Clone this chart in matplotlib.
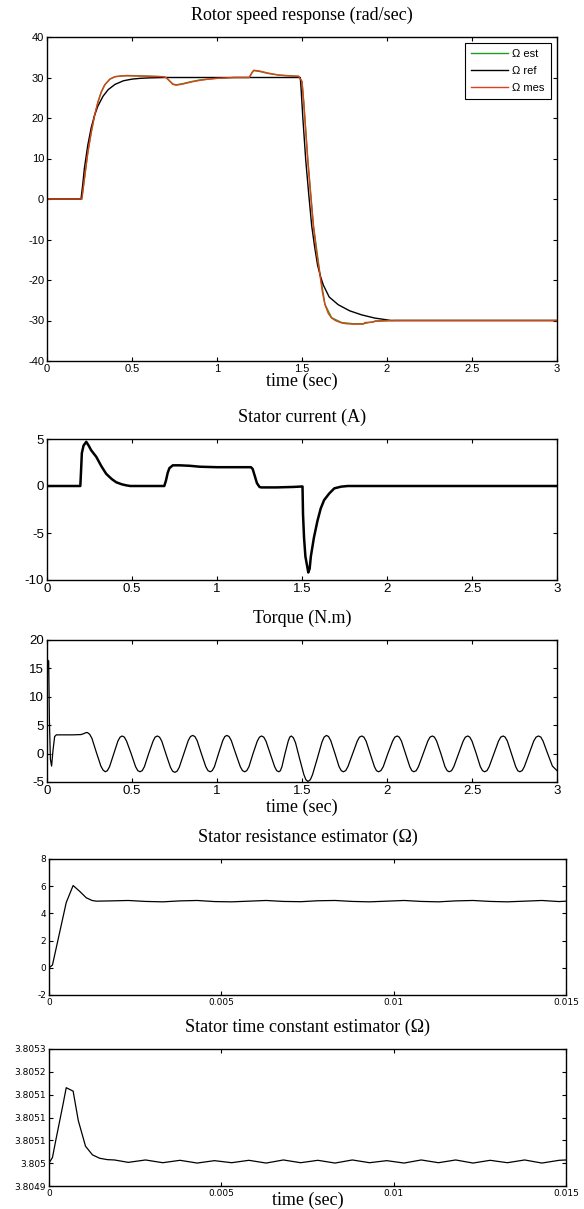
import matplotlib
matplotlib.use("Agg")
import matplotlib.pyplot as plt

plt.rcParams['font.family'] = ['Liberation Sans', 'DejaVu Sans']
plt.rcParams['axes.unicode_minus'] = False
SERIF = ['Liberation Serif', 'DejaVu Serif']

# ---- rotor speed (rad/sec) ----
t_ref = [0, 0.2, 0.21, 0.22, 0.24, 0.26, 0.28, 0.30, 0.33, 0.36, 0.40, 0.45, 0.50, 0.55,
         0.60, 0.70, 1.49, 1.495, 1.505, 1.522, 1.54, 1.557, 1.575, 1.592, 1.61, 1.626,
         1.66, 1.713, 1.78, 1.85, 1.928, 2.025, 3.0]
w_ref = [0, 0, 3.5, 7.6, 13.3, 17.6, 20.7, 23.0, 25.4, 27.0, 28.3, 29.2, 29.6, 29.8,
         29.9, 30, 30, 27, 20, 9.6, 1.0, -6.6, -12, -16.4, -19.3, -21.3,
         -24.2, -26.1, -27.6, -28.6, -29.4, -30, -30]

t_mes = [0, 0.2, 0.205, 0.22, 0.24, 0.26, 0.28, 0.30, 0.32, 0.34, 0.37, 0.40, 0.44, 0.50,
         0.60, 0.68, 0.70, 0.72, 0.74, 0.76, 0.80, 0.85, 0.90, 0.95, 1.0, 1.1, 1.19,
         1.205, 1.216, 1.25, 1.30, 1.363, 1.42, 1.48, 1.50, 1.51, 1.534, 1.55, 1.567,
         1.585, 1.606, 1.62, 1.635, 1.655, 1.674, 1.70, 1.733, 1.76, 1.80, 1.86, 1.87,
         1.92, 1.93, 2.03, 3.0]
w_mes = [0, 0, 0, 5, 11.5, 16.5, 20.7, 24, 26.5, 28.2, 29.6, 30.2, 30.4, 30.4,
         30.3, 30.2, 30.0, 29.2, 28.3, 28.1, 28.4, 28.9, 29.3, 29.6, 29.8, 30.0, 30.0,
         31.2, 31.8, 31.6, 31.1, 30.6, 30.4, 30.3, 29, 24, 9.6, 1.5, -6.6,
         -13, -18.8, -23, -26.1, -28.3, -29.4, -30.1, -30.6, -30.8, -30.9, -30.9, -30.5,
         -30.4, -30.1, -30, -30]

t_est = [0, 0.2, 0.205, 0.22, 0.24, 0.26, 0.28, 0.30, 0.32, 0.34, 0.37, 0.40, 0.47, 0.55,
         0.68, 0.70, 0.72, 0.74, 0.76, 0.80, 0.85, 0.90, 1.0, 1.1, 1.19, 1.205, 1.216,
         1.25, 1.30, 1.363, 1.48, 1.50, 1.51, 1.534, 1.567, 1.606, 1.635, 1.674, 1.733,
         1.80, 1.86, 1.93, 2.05, 3.0]
w_est = [0, 0, 0, 5, 11.4, 16.4, 20.6, 24, 26.5, 28.2, 29.6, 30.2, 30.5, 30.4,
         30.2, 30.0, 29.2, 28.4, 28.2, 28.5, 29.0, 29.4, 29.8, 30.0, 30.0, 31.1, 31.7,
         31.5, 31.0, 30.6, 30.3, 29, 24, 9.8, -6.4, -18.6, -26.0, -29.3, -30.5,
         -30.8, -30.8, -30.2, -30, -30]

# ---- stator current (A) ----
t_cur = [0, 0.196, 0.200, 0.205, 0.215, 0.231, 0.245, 0.26, 0.29, 0.32, 0.348, 0.38, 0.407,
         0.44, 0.466, 0.49, 0.69, 0.70, 0.71, 0.72, 0.74, 0.78, 0.84, 0.90, 1.0, 1.1, 1.2,
         1.21, 1.22, 1.235, 1.25, 1.26, 1.35, 1.45, 1.503, 1.506, 1.512, 1.52, 1.537, 1.545,
         1.552, 1.57, 1.591, 1.61, 1.63, 1.66, 1.69, 1.73, 1.77, 1.80, 3.0]
i_cur = [0, 0, 1.5, 3.5, 4.3, 4.7, 4.3, 3.8, 3.1, 2.1, 1.3, 0.75, 0.4,
         0.18, 0.07, 0, 0, 0.6, 1.4, 1.9, 2.2, 2.2, 2.15, 2.05, 2.0, 2.0, 2.0,
         1.8, 1.2, 0.3, -0.1, -0.15, -0.15, -0.1, -0.05, -3, -5.5, -7.5, -9.2, -8.8,
         -7.5, -5.5, -3.7, -2.4, -1.5, -0.8, -0.25, -0.07, 0, 0, 0]

# ---- torque (N.m) ----
t_trq = [0, 0.003, 0.010, 0.014, 0.020, 0.027, 0.035, 0.045, 0.055, 0.10, 0.15, 0.20, 0.215,
         0.23, 0.238,
         0.251, 0.264, 0.290, 0.317, 0.330, 0.343,
         0.355, 0.368, 0.393, 0.417, 0.430, 0.442,
         0.455, 0.468, 0.495, 0.521, 0.534, 0.547,
         0.560, 0.573, 0.598, 0.624, 0.636, 0.649,
         0.662, 0.675, 0.700, 0.726, 0.739, 0.752,
         0.765, 0.778, 0.805, 0.831, 0.844, 0.857,
         0.870, 0.883, 0.908, 0.934, 0.947, 0.960,
         0.972, 0.985, 1.009, 1.034, 1.046, 1.058,
         1.071, 1.084, 1.110, 1.137, 1.150, 1.163,
         1.175, 1.188, 1.212, 1.237, 1.250, 1.262,
         1.275, 1.288, 1.313, 1.339, 1.351, 1.364,
         1.373, 1.382, 1.400, 1.419, 1.428, 1.437,
         1.449, 1.462, 1.486, 1.511, 1.523, 1.535,
         1.549, 1.562, 1.590, 1.617, 1.630, 1.644,
         1.656, 1.669, 1.694, 1.718, 1.731, 1.743,
         1.757, 1.770, 1.798, 1.825, 1.838, 1.852,
         1.864, 1.877, 1.901, 1.926, 1.938, 1.950,
         1.964, 1.978, 2.005, 2.033, 2.046, 2.060,
         2.072, 2.085, 2.109, 2.134, 2.146, 2.158,
         2.172, 2.185, 2.213, 2.240, 2.253, 2.267,
         2.279, 2.292, 2.317, 2.341, 2.354, 2.366,
         2.380, 2.393, 2.421, 2.448, 2.461, 2.475,
         2.487, 2.500, 2.525, 2.549, 2.562, 2.574,
         2.588, 2.601, 2.629, 2.656, 2.669, 2.683,
         2.695, 2.708, 2.732, 2.757, 2.769, 2.781,
         2.795, 2.808, 2.836, 2.863, 2.877, 2.891,
         2.905, 2.918, 2.945, 2.973, 3.0]
q_trq = [0, 16.5, 16.3, 6, -1.0, -2.2, 0.5, 3.0, 3.3, 3.3, 3.3, 3.35, 3.5,
         3.7, 3.7,
         3.4, 2.7, 0.25, -2.2, -2.9, -3.2,
         -3.0, -2.3, 0, 2.2, 2.9, 3.1,
         2.9, 2.2, 0, -2.3, -3.0, -3.2,
         -3.0, -2.3, 0, 2.2, 2.9, 3.1,
         2.9, 2.2, -0.1, -2.4, -3.1, -3.3,
         -3.1, -2.4, 0, 2.3, 3.0, 3.2,
         3.0, 2.3, 0, -2.3, -3.0, -3.2,
         -3.0, -2.3, 0, 2.3, 3.0, 3.2,
         3.0, 2.3, 0, -2.3, -3.0, -3.2,
         -3.0, -2.3, 0, 2.2, 2.9, 3.1,
         2.9, 2.2, 0, -2.3, -3.0, -3.2,
         -3.0, -2.3, 0, 2.2, 2.9, 3.1,
         2.8, 1.9, -0.9, -3.7, -4.6, -4.9,
         -4.6, -3.7, -0.85, 2.0, 2.9, 3.2,
         3.0, 2.3, 0, -2.3, -3.0, -3.2,
         -3.0, -2.3, 0, 2.2, 2.9, 3.1,
         2.9, 2.2, 0, -2.3, -3.0, -3.2,
         -3.0, -2.3, 0, 2.2, 2.9, 3.1,
         2.9, 2.2, 0, -2.3, -3.0, -3.2,
         -3.0, -2.3, 0, 2.2, 2.9, 3.1,
         2.9, 2.2, 0, -2.3, -3.0, -3.2,
         -3.0, -2.3, 0, 2.2, 2.9, 3.1,
         2.9, 2.2, 0, -2.3, -3.0, -3.2,
         -3.0, -2.3, 0, 2.2, 2.9, 3.1,
         2.9, 2.2, 0, -2.3, -3.0, -3.2,
         -3.0, -2.3, 0, 2.2, 2.9, 3.1,
         2.9, 2.2, 0, -2.2, -3.0]

# ---- stator resistance estimator ----
t_rs = [0, 0.0001, 0.0003, 0.0005, 0.0007, 0.0009, 0.00108, 0.00125, 0.00137, 0.0018,
        0.0023, 0.0028, 0.0033, 0.0038, 0.0043, 0.0048, 0.0053, 0.0058, 0.0063, 0.0068,
        0.0073, 0.0078, 0.0083, 0.0088, 0.0093, 0.0098, 0.0103, 0.0108, 0.0113, 0.0118,
        0.0123, 0.0128, 0.0133, 0.0138, 0.0143, 0.0148, 0.015]
r_s = [0, 0.2, 2.5, 4.8, 6.05, 5.6, 5.15, 4.95, 4.9, 4.92,
       4.95, 4.88, 4.85, 4.92, 4.95, 4.87, 4.85, 4.9, 4.95, 4.88,
       4.86, 4.93, 4.95, 4.88, 4.85, 4.9, 4.95, 4.88, 4.85, 4.92,
       4.95, 4.88, 4.85, 4.9, 4.95, 4.87, 4.9]

# ---- stator time constant estimator ----
t_ts = [0, 0.0001, 0.0002, 0.0003, 0.0004, 0.0005, 0.0007, 0.00085, 0.00106, 0.00126,
        0.00147, 0.00169, 0.0019, 0.0023, 0.0028, 0.0033, 0.0038, 0.0043, 0.0048, 0.0053,
        0.0058, 0.0063, 0.0068, 0.0073, 0.0078, 0.0083, 0.0088, 0.0093, 0.0098, 0.0103,
        0.0108, 0.0113, 0.0118, 0.0123, 0.0128, 0.0133, 0.0138, 0.0143, 0.0148, 0.015]
tau_s = [3.804967, 3.804983, 3.805035, 3.805085, 3.805135, 3.805187, 3.805177, 3.805091,
         3.805016, 3.804991, 3.804981, 3.804977, 3.804976, 3.804969, 3.804976, 3.804968,
         3.804975, 3.804967, 3.804974, 3.804968, 3.804975, 3.804967, 3.804976, 3.804968,
         3.804975, 3.804967, 3.804976, 3.804968, 3.804974, 3.804967, 3.804976, 3.804968,
         3.804976, 3.804967, 3.804975, 3.804968, 3.804976, 3.804967, 3.804975, 3.804976]
tau_ticks = [3.8049, 3.8049667, 3.8050333, 3.8051, 3.8051667, 3.8052333, 3.8053]
tau_labels = ['3.8049', '3.805', '3.8051', '3.8051', '3.8051', '3.8052', '3.8053']

W, H = 584, 1209
fig = plt.figure(figsize=(W / 100, H / 100), dpi=100)


def make_ax(x0, x1, y0, y1):
    # pixel box (from top-left) -> figure axes
    return fig.add_axes([x0 / W, 1 - y1 / H, (x1 - x0) / W, (y1 - y0) / H])


def style(ax, title, hpx, fs, xlabel_off=None, fam=None):
    ax.tick_params(direction='in', top=True, right=True, length=3, width=0.8,
                   labelsize=fs, pad=2, colors='black')
    if fam:
        for lab in ax.get_xticklabels() + ax.get_yticklabels():
            lab.set_family(fam)
    for s in ax.spines.values():
        s.set_linewidth(1.0)
    ax.set_title(title, family=SERIF, fontsize=13, pad=0, y=1 + 22 / hpx, va='center')
    if xlabel_off is not None:
        ax.set_xlabel('time (sec)', family=SERIF, fontsize=13, va='center')
        ax.xaxis.set_label_coords(0.5, -xlabel_off / hpx)


xt3 = [0, 0.5, 1, 1.5, 2, 2.5, 3]
xl3 = ['0', '0.5', '1', '1.5', '2', '2.5', '3']

# panel 1
ax1 = make_ax(47, 557, 37, 361)
ax1.plot(t_est, w_est, color='#1f9e1f', lw=1.0, label='Ω est')
ax1.plot(t_ref, w_ref, color='black', lw=1.0, label='Ω ref')
ax1.plot(t_mes, w_mes, color='#e0401a', lw=1.0, label='Ω mes')
ax1.set_xlim(0, 3)
ax1.set_ylim(-40, 40)
ax1.set_xticks(xt3, xl3)
ax1.set_yticks(range(-40, 41, 10))
style(ax1, 'Rotor speed response (rad/sec)', 324, 8, xlabel_off=20)
ax1.legend(loc='upper right', fontsize=8, fancybox=False, edgecolor='black',
           framealpha=1, handlelength=3.3, handletextpad=0.4, labelspacing=0.6,
           borderaxespad=0.5, borderpad=0.6)
ax1.get_legend().get_frame().set_linewidth(0.8)

# panel 2
ax2 = make_ax(47, 557, 439, 580)
ax2.plot(t_cur, i_cur, color='black', lw=1.8)
ax2.set_xlim(0, 3)
ax2.set_ylim(-10, 5)
ax2.set_xticks(xt3, xl3)
ax2.set_yticks([-10, -5, 0, 5])
style(ax2, 'Stator current (A)', 141, 9.5)

# panel 3
ax3 = make_ax(47, 557, 640, 782)
ax3.plot(t_trq, q_trq, color='black', lw=0.9)
ax3.set_xlim(0, 3)
ax3.set_ylim(-5, 20)
ax3.set_xticks(xt3, xl3)
ax3.set_yticks([-5, 0, 5, 10, 15, 20])
style(ax3, 'Torque (N.m)', 142, 9.5, xlabel_off=25)

# panel 4
ax4 = make_ax(49, 566, 859, 995)
ax4.plot(t_rs, r_s, color='black', lw=0.9)
ax4.set_xlim(0, 0.015)
ax4.set_ylim(-2, 8)
ax4.set_xticks([0, 0.005, 0.01, 0.015], ['0', '0.005', '0.01', '0.015'])
ax4.set_yticks([-2, 0, 2, 4, 6, 8])
style(ax4, 'Stator resistance estimator (Ω)', 136, 6.5, fam='DejaVu Sans')

# panel 5
ax5 = make_ax(49, 566, 1049, 1186)
ax5.plot(t_ts, tau_s, color='black', lw=0.9)
ax5.set_xlim(0, 0.015)
ax5.set_ylim(3.8049, 3.8053)
ax5.set_xticks([0, 0.005, 0.01, 0.015], ['0', '0.005', '0.01', '0.015'])
ax5.set_yticks(tau_ticks, tau_labels)
style(ax5, 'Stator time constant estimator (Ω)', 137, 6.5, xlabel_off=14, fam='DejaVu Sans')

fig.savefig('out.png', dpi=100)
